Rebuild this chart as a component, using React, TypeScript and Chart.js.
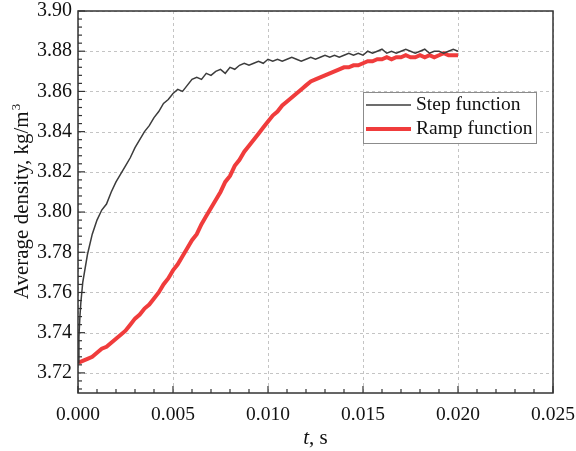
import React, { useEffect, useRef } from "react";
import { Chart, registerables } from "chart.js";

Chart.register(...registerables);

const X_TICKS = [0, 0.005, 0.01, 0.015, 0.02, 0.025];
const Y_TICKS = [3.72, 3.74, 3.76, 3.78, 3.8, 3.82, 3.84, 3.86, 3.88, 3.9];
const X_MINOR_STEP = 0.001;
const Y_MINOR_STEP = 0.004;

const STEP_T = [
  0, 0.00005, 0.0001, 0.00015, 0.0002, 0.00025, 0.0005, 0.00075, 0.001, 0.00125,
  0.0015, 0.00175, 0.002, 0.00225, 0.0025, 0.00275, 0.003, 0.00325, 0.0035, 0.00375,
  0.004, 0.00425, 0.0045, 0.00475, 0.005, 0.00525, 0.0055, 0.00575, 0.006, 0.00625,
  0.0065, 0.00675, 0.007, 0.00725, 0.0075, 0.00775, 0.008, 0.00825, 0.0085, 0.00875,
  0.009, 0.00925, 0.0095, 0.00975, 0.01, 0.01025, 0.0105, 0.01075, 0.011, 0.01125,
  0.0115, 0.01175, 0.012, 0.01225, 0.0125, 0.01275, 0.013, 0.01325, 0.0135, 0.01375,
  0.014, 0.01425, 0.0145, 0.01475, 0.015, 0.01525, 0.0155, 0.01575, 0.016, 0.01625,
  0.0165, 0.01675, 0.017, 0.01725, 0.0175, 0.01775, 0.018, 0.01825, 0.0185, 0.01875,
  0.019, 0.01925, 0.0195, 0.01975, 0.02,
];
const STEP_V = [
  3.725, 3.738, 3.748, 3.755, 3.76, 3.765, 3.779, 3.789, 3.796, 3.801,
  3.804, 3.81, 3.815, 3.819, 3.823, 3.827, 3.832, 3.836, 3.84, 3.843,
  3.847, 3.85, 3.854, 3.856, 3.859, 3.861, 3.86, 3.863, 3.866, 3.867,
  3.866, 3.869, 3.868, 3.87, 3.871, 3.869, 3.872, 3.871, 3.873, 3.874,
  3.873, 3.874, 3.875, 3.874, 3.876, 3.875, 3.876, 3.875, 3.876, 3.877,
  3.876, 3.875, 3.876, 3.877, 3.876, 3.877, 3.878, 3.877, 3.878, 3.877,
  3.878, 3.879, 3.878, 3.879, 3.878, 3.88, 3.879, 3.88, 3.881, 3.879,
  3.88, 3.879, 3.88, 3.881, 3.88, 3.879, 3.88, 3.881, 3.879, 3.88,
  3.88, 3.879, 3.88, 3.881, 3.88,
];

const RAMP_T = [
  0, 0.00025, 0.0005, 0.00075, 0.001, 0.00125, 0.0015, 0.00175, 0.002, 0.00225,
  0.0025, 0.00275, 0.003, 0.00325, 0.0035, 0.00375, 0.004, 0.00425, 0.0045, 0.00475,
  0.005, 0.00525, 0.0055, 0.00575, 0.006, 0.00625, 0.0065, 0.00675, 0.007, 0.00725,
  0.0075, 0.00775, 0.008, 0.00825, 0.0085, 0.00875, 0.009, 0.00925, 0.0095, 0.00975,
  0.01, 0.01025, 0.0105, 0.01075, 0.011, 0.01125, 0.0115, 0.01175, 0.012, 0.01225,
  0.0125, 0.01275, 0.013, 0.01325, 0.0135, 0.01375, 0.014, 0.01425, 0.0145, 0.01475,
  0.015, 0.01525, 0.0155, 0.01575, 0.016, 0.01625, 0.0165, 0.01675, 0.017, 0.01725,
  0.0175, 0.01775, 0.018, 0.01825, 0.0185, 0.01875, 0.019, 0.01925, 0.0195, 0.01975,
  0.02,
];
const RAMP_V = [
  3.725, 3.726, 3.727, 3.728, 3.73, 3.732, 3.733, 3.735, 3.737, 3.739,
  3.741, 3.744, 3.747, 3.749, 3.752, 3.754, 3.757, 3.76, 3.764, 3.767,
  3.771, 3.774, 3.778, 3.782, 3.786, 3.789, 3.794, 3.798, 3.802, 3.806,
  3.81, 3.815, 3.818, 3.823, 3.826, 3.83, 3.833, 3.836, 3.839, 3.842,
  3.845, 3.848, 3.85, 3.853, 3.855, 3.857, 3.859, 3.861, 3.863, 3.865,
  3.866, 3.867, 3.868, 3.869, 3.87, 3.871, 3.872, 3.872, 3.873, 3.873,
  3.874, 3.875, 3.875, 3.876, 3.876, 3.877, 3.876, 3.877, 3.877, 3.878,
  3.877, 3.877, 3.878, 3.877, 3.878, 3.877, 3.878, 3.879, 3.878, 3.878,
  3.878,
];

const SERIES_LABELS = ["Step function", "Ramp function"];
const STEP_COLOR = "#3c3c3c";
const RAMP_COLOR = "#f03c3c";
const FONT = "'Liberation Serif', 'Times New Roman', serif";

const decorPlugin = {
  id: "decor",
  beforeDatasetsDraw(chart: any) {
    const { ctx, chartArea: a, scales } = chart;
    const xs = scales.x, ys = scales.y;
    ctx.save();
    ctx.strokeStyle = "#c4c4c4";
    ctx.lineWidth = 1;
    ctx.setLineDash([3, 3]);
    for (const v of X_TICKS) {
      const px = Math.round(xs.getPixelForValue(v)) + 0.5;
      ctx.beginPath();
      ctx.moveTo(px, a.top);
      ctx.lineTo(px, a.bottom);
      ctx.stroke();
    }
    for (const v of Y_TICKS) {
      const py = Math.round(ys.getPixelForValue(v)) + 0.5;
      ctx.beginPath();
      ctx.moveTo(a.left, py);
      ctx.lineTo(a.right, py);
      ctx.stroke();
    }
    ctx.restore();
  },
  afterDatasetsDraw(chart: any) {
    const { ctx, chartArea: a, scales } = chart;
    const xs = scales.x, ys = scales.y;
    ctx.save();
    ctx.setLineDash([]);
    ctx.strokeStyle = "#333";
    ctx.lineWidth = 1.5;
    ctx.strokeRect(a.left, a.top, a.right - a.left, a.bottom - a.top);
    ctx.lineWidth = 1.2;
    for (let v = xs.min; v <= xs.max + 1e-9; v += X_MINOR_STEP) {
      const isMajor = X_TICKS.some((t) => Math.abs(t - v) < 1e-7);
      const px = xs.getPixelForValue(v);
      ctx.beginPath();
      ctx.moveTo(px, a.bottom);
      ctx.lineTo(px, a.bottom - (isMajor ? 7 : 4));
      ctx.stroke();
    }
    for (let v = 3.712; v <= ys.max + 1e-9; v += Y_MINOR_STEP) {
      const isMajor = Y_TICKS.some((t) => Math.abs(t - v) < 1e-7);
      const py = ys.getPixelForValue(v);
      ctx.beginPath();
      ctx.moveTo(a.left, py);
      ctx.lineTo(a.left + (isMajor ? 7 : 4), py);
      ctx.stroke();
    }
    const lx = 363, ly = 92, lw = 173, lh = 51;
    ctx.fillStyle = "#fff";
    ctx.fillRect(lx, ly, lw, lh);
    ctx.strokeStyle = "#8c8c8c";
    ctx.lineWidth = 1;
    ctx.strokeRect(lx + 0.5, ly + 0.5, lw, lh);
    const ds = chart.data.datasets;
    const rows = [105, 129];
    ds.forEach((d: any, i: number) => {
      ctx.strokeStyle = d.borderColor;
      ctx.lineWidth = d.borderWidth;
      ctx.beginPath();
      ctx.moveTo(366, rows[i]);
      ctx.lineTo(411, rows[i]);
      ctx.stroke();
      ctx.fillStyle = "#111";
      ctx.font = `19.5px ${FONT}`;
      ctx.textBaseline = "middle";
      ctx.textAlign = "left";
      ctx.fillText(d.label, 416, rows[i]);
    });
    ctx.restore();
  },
  afterDraw(chart: any) {
    const { ctx, chartArea: a } = chart;
    ctx.save();
    ctx.fillStyle = "#111";
    const cx = (a.left + a.right) / 2;
    ctx.textBaseline = "middle";
    ctx.font = `italic 21px ${FONT}`;
    const w1 = ctx.measureText("t").width;
    ctx.font = `21px ${FONT}`;
    const w2 = ctx.measureText(", s").width;
    const sx = cx - (w1 + w2) / 2;
    ctx.textAlign = "left";
    ctx.font = `italic 21px ${FONT}`;
    ctx.fillText("t", sx, 438);
    ctx.font = `21px ${FONT}`;
    ctx.fillText(", s", sx + w1, 438);
    const cy = (a.top + a.bottom) / 2;
    ctx.translate(21, cy);
    ctx.rotate(-Math.PI / 2);
    ctx.font = `21px ${FONT}`;
    const main = "Average density, kg/m";
    const mw = ctx.measureText(main).width;
    ctx.font = `13px ${FONT}`;
    const sw = ctx.measureText("3").width;
    const start = -(mw + sw) / 2;
    ctx.font = `21px ${FONT}`;
    ctx.textAlign = "left";
    ctx.textBaseline = "alphabetic";
    ctx.fillText(main, start, 7);
    ctx.font = `13px ${FONT}`;
    ctx.fillText("3", start + mw + 1, -1);
    ctx.restore();
  },
};

export default function App() {
  const ref = useRef<HTMLCanvasElement | null>(null);
  useEffect(() => {
    if (!ref.current) return;
    const chart = new Chart(ref.current, {
      type: "line",
      data: {
        datasets: [
          {
            label: SERIES_LABELS[0],
            data: STEP_T.map((t, i) => ({ x: t, y: STEP_V[i] })),
            borderColor: STEP_COLOR,
            borderWidth: 1.5,
            pointRadius: 0,
            tension: 0,
            order: 0,
          },
          {
            label: SERIES_LABELS[1],
            data: RAMP_T.map((t, i) => ({ x: t, y: RAMP_V[i] })),
            borderColor: RAMP_COLOR,
            borderWidth: 4,
            pointRadius: 0,
            tension: 0,
            order: 1,
          },
        ],
      },
      options: {
        animation: false,
        responsive: false,
        layout: { padding: { top: 11, right: 23, left: 0, bottom: 0 } },
        plugins: { legend: { display: false }, tooltip: { enabled: false } },
        scales: {
          x: {
            type: "linear",
            min: 0,
            max: 0.025,
            afterFit: (s: any) => {
              s.height = 58;
              s.paddingLeft = 0;
              s.paddingRight = 0;
            },
            afterBuildTicks: (s: any) => { s.ticks = X_TICKS.map((v) => ({ value: v })); },
            grid: { display: false, drawTicks: false },
            border: { display: false },
            ticks: {
              padding: 10,
              color: "#111",
              font: { family: FONT, size: 19.5 },
              callback: (v: any) => Number(v).toFixed(3),
              maxRotation: 0,
            },
          },
          y: {
            type: "linear",
            min: 3.71,
            max: 3.9,
            afterFit: (s: any) => {
              s.width = 78;
              s.paddingTop = 0;
              s.paddingBottom = 0;
            },
            afterBuildTicks: (s: any) => { s.ticks = Y_TICKS.map((v) => ({ value: v })); },
            grid: { display: false, drawTicks: false },
            border: { display: false },
            ticks: {
              padding: 6,
              color: "#111",
              font: { family: FONT, size: 20 },
              callback: (v: any) => Number(v).toFixed(2),
            },
          },
        },
      },
      plugins: [decorPlugin],
    } as any);
    return () => chart.destroy();
  }, []);
  return (
    <div style={{ position: "absolute", left: 0, top: 0, width: 576, height: 451, background: "#fff" }}>
      <canvas ref={ref} width={576} height={451} style={{ display: "block" }} />
    </div>
  );
}
